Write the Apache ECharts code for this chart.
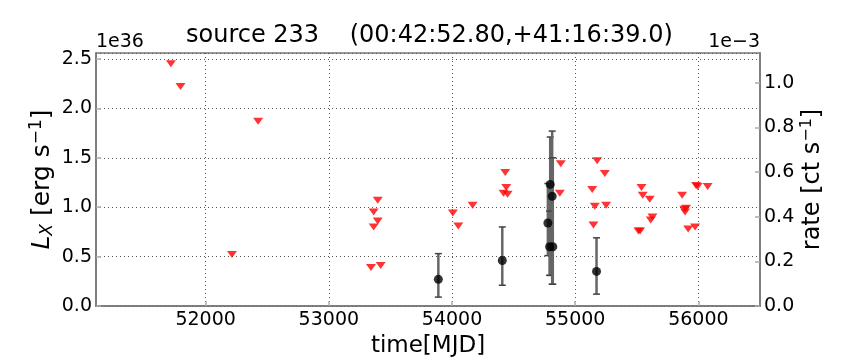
<!DOCTYPE html>
<html>
<head>
<meta charset="utf-8">
<script src="https://cdn.jsdelivr.net/npm/echarts@6/dist/echarts.min.js"></script>
<style>
  html, body { margin: 0; padding: 0; background: #fff; }
  #chart { width: 864px; height: 360px; }
</style>
</head>
<body>
<div id="chart"></div>
<script>
// upper limits (red triangles), L_X in 1e36 erg/s
var limitTimes = [51718, 51796, 52426, 52214, 53397, 53364, 53397, 53364, 53342, 53421,
  54007, 54051, 54167, 54432, 54440, 54418, 54451, 54883, 54875, 55178, 55240, 55138,
  55159, 55251, 55148, 55538, 55548, 55605, 55627, 55613, 55513, 55527, 55868, 55886,
  55900, 55892, 55917, 55973, 55981, 55994, 56075];
var limitLum = [2.45, 2.22, 1.87, 0.52, 1.07, 0.95, 0.86, 0.80, 0.39, 0.41,
  0.94, 0.81, 1.02, 1.35, 1.20, 1.14, 1.13, 1.44, 1.14, 1.47, 1.34, 1.18,
  1.01, 1.02, 0.82, 1.20, 1.12, 1.08, 0.90, 0.87, 0.76, 0.76, 1.12, 0.98,
  0.99, 0.95, 0.78, 0.80, 1.22, 1.21, 1.21];

// detections (black dots with error bars)
var detTimes = [53889, 54408, 54778, 54797, 54813, 54792, 54818, 55173];
var detLum = [0.27, 0.46, 0.84, 1.23, 1.11, 0.60, 0.60, 0.35];
var detLow = [0.09, 0.21, 0.51, 0.31, 0.22, 0.31, 0.22, 0.12];
var detHigh = [0.53, 0.80, 1.24, 1.71, 1.77, 0.96, 1.50, 0.69];

var xTicks = [52000, 53000, 54000, 55000, 56000];

var limits = limitTimes.map(function (t, i) { return [t, limitLum[i]]; });
var dets = detTimes.map(function (t, i) { return [t, detLum[i]]; });
var bars = detTimes.map(function (t, i) { return [t, detLow[i], detHigh[i]]; });

var font = 'DejaVu Sans';
var chart = echarts.init(document.getElementById('chart'));
chart.setOption({
  animation: false,
  backgroundColor: '#fff',
  textStyle: { fontFamily: font },
  title: {
    text: 'source 233    (00:42:52.80,+41:16:39.0)',
    left: 181, top: 19,
    textStyle: { fontFamily: font, fontSize: 24, fontWeight: 'normal', color: '#000' }
  },
  grid: {
    left: 96, right: 104, top: 53, bottom: 54, outerBoundsMode: 'none',
    show: true, borderColor: '#777', borderWidth: 1.5, backgroundColor: 'transparent'
  },
  graphic: [
    { type: 'text', left: 96, top: 33, style: { text: '1e36', font: '19px "DejaVu Sans"', fill: '#000' } },
    { type: 'text', right: 104, top: 33, style: { text: '1e\u22123', font: '19px "DejaVu Sans"', fill: '#000' } }
  ],
  xAxis: {
    type: 'value', min: 51110, max: 56500,
    name: 'time[MJD]', nameLocation: 'middle', nameGap: 27,
    nameTextStyle: { fontFamily: font, fontSize: 23, color: '#000' },
    axisLine: { lineStyle: { color: '#777', width: 1.5 } },
    axisTick: { inside: true, length: 5, customValues: xTicks, lineStyle: { color: '#aaa', width: 1.5 } },
    axisLabel: { customValues: xTicks, fontSize: 19, color: '#000', margin: 5,
      formatter: function (v) { return String(v); } },
    splitLine: { show: true, lineStyle: { color: '#555', type: [1, 3], width: 1 } }
  },
  yAxis: [{
    type: 'value', min: 0, max: 2.56, interval: 0.5,
    name: '{it|L}{sub|X}{n| [erg s}{sup|\u22121}{n|]}', nameLocation: 'middle', nameGap: 40, nameRotate: 90,
    nameMoveOverlap: false,
    nameTextStyle: {
      color: '#000',
      rich: {
        it: { fontFamily: font, fontStyle: 'italic', fontSize: 25, color: '#000' },
        sub: { fontFamily: font, fontStyle: 'italic', fontSize: 17, color: '#000', padding: [11, 0, 0, 0] },
        n: { fontFamily: font, fontSize: 25, color: '#000' },
        sup: { fontFamily: font, fontSize: 17, color: '#000', padding: [0, 0, 11, 0] }
      }
    },
    axisLine: { show: true, lineStyle: { color: '#777', width: 1.5 } },
    axisTick: { show: true, inside: true, length: 5, lineStyle: { color: '#aaa', width: 1.5 } },
    axisLabel: { fontSize: 19, color: '#000', margin: 4, showMaxLabel: false,
      formatter: function (v) { return v.toFixed(1); } },
    splitLine: { show: true, lineStyle: { color: '#555', type: [1, 3], width: 1 } }
  }, {
    type: 'value', position: 'right', min: 0, max: 1.133, interval: 0.2,
    name: '{n|rate [ct s}{sup|\u22121}{n|]}', nameLocation: 'middle', nameGap: 39, nameRotate: 90,
    nameMoveOverlap: false,
    nameTextStyle: {
      color: '#000',
      rich: {
        n: { fontFamily: font, fontSize: 24, color: '#000' },
        sup: { fontFamily: font, fontSize: 16, color: '#000', padding: [0, 0, 11, 0] }
      }
    },
    axisLine: { show: true, lineStyle: { color: '#777', width: 1.5 } },
    axisTick: { show: true, inside: true, length: 5, lineStyle: { color: '#aaa', width: 1.5 } },
    axisLabel: { fontSize: 19, color: '#000', margin: 4, showMaxLabel: false,
      formatter: function (v) { return v.toFixed(1); } },
    splitLine: { show: false }
  }],
  series: [{
    type: 'scatter', data: limits, yAxisIndex: 0,
    symbol: 'triangle', symbolRotate: 180, symbolSize: [10, 7],
    itemStyle: { color: '#ff0000' }, z: 3
  }, {
    type: 'custom', data: bars, yAxisIndex: 0, z: 4,
    encode: { x: 0, y: [1, 2] },
    renderItem: function (params, api) {
      var top = api.coord([api.value(0), api.value(2)]);
      var bot = api.coord([api.value(0), api.value(1)]);
      var cap = { stroke: '#444', lineWidth: 1.5 };
      return {
        type: 'group',
        children: [
          { type: 'line', shape: { x1: top[0], y1: top[1], x2: bot[0], y2: bot[1] }, style: { stroke: '#666', lineWidth: 2.5 } },
          { type: 'line', shape: { x1: top[0] - 3.5, y1: top[1], x2: top[0] + 3.5, y2: top[1] }, style: cap },
          { type: 'line', shape: { x1: bot[0] - 3.5, y1: bot[1], x2: bot[0] + 3.5, y2: bot[1] }, style: cap }
        ]
      };
    }
  }, {
    type: 'scatter', data: dets, yAxisIndex: 0,
    symbol: 'circle', symbolSize: 9,
    itemStyle: { color: '#000' }, z: 5
  }]
});
</script>
</body>
</html>
